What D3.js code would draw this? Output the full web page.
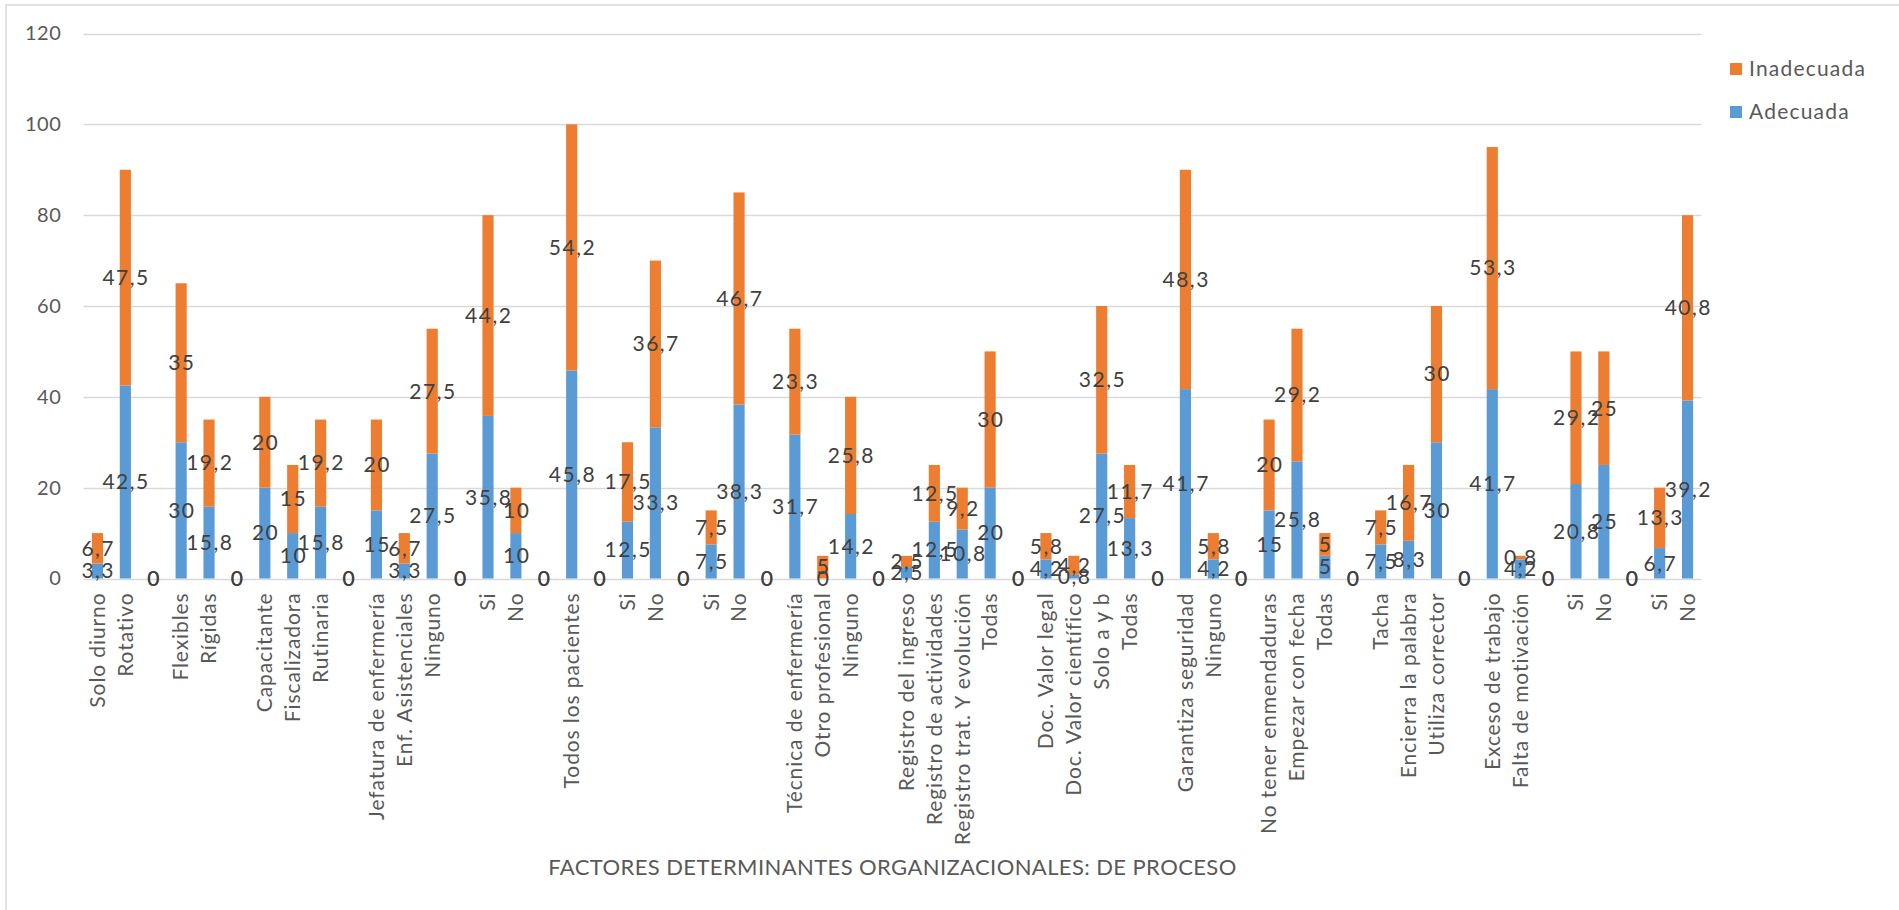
<!DOCTYPE html>
<html>
<head>
<meta charset="utf-8">
<script src="https://cdn.jsdelivr.net/npm/d3@7/dist/d3.min.js"></script>
<style>
  html, body { margin: 0; padding: 0; background: #ffffff; }
  svg { display: block; }
  text { font-family: Lato, "Noto Sans", "Liberation Sans", sans-serif; }
</style>
</head>
<body>
<svg id="chart" width="1899" height="910"></svg>
<script>
// Categories of the organizational process factors (empty strings separate the groups)
const categories = [
  "Solo diurno", "Rotativo", "",
  "Flexibles", "Rígidas", "",
  "Capacitante", "Fiscalizadora", "Rutinaria", "",
  "Jefatura de enfermería", "Enf. Asistenciales", "Ninguno", "",
  "Si", "No", "",
  "Todos los pacientes", "",
  "Si", "No", "",
  "Si", "No", "",
  "Técnica de enfermería", "Otro profesional", "Ninguno", "",
  "Registro del ingreso", "Registro de actividades", "Registro trat. Y evolución", "Todas", "",
  "Doc. Valor legal", "Doc. Valor científico", "Solo a y b", "Todas", "",
  "Garantiza seguridad", "Ninguno", "",
  "No tener enmendaduras", "Empezar con fecha", "Todas", "",
  "Tacha", "Encierra la palabra", "Utiliza corrector", "",
  "Exceso de trabajo", "Falta de motivación", "",
  "Si", "No", "",
  "Si", "No"
];

// Percentage of "Adecuada" per category
const adecuada = [
  3.3, 42.5, 0,
  30, 15.8, 0,
  20, 10, 15.8, 0,
  15, 3.3, 27.5, 0,
  35.8, 10, 0,
  45.8, 0,
  12.5, 33.3, 0,
  7.5, 38.3, 0,
  31.7, 0, 14.2, 0,
  2.5, 12.5, 10.8, 20, 0,
  4.2, 0.8, 27.5, 13.3, 0,
  41.7, 4.2, 0,
  15, 25.8, 5, 0,
  7.5, 8.3, 30, 0,
  41.7, 4.2, 0,
  20.8, 25, 0,
  6.7, 39.2
];

// Percentage of "Inadecuada" per category
const inadecuada = [
  6.7, 47.5, 0,
  35, 19.2, 0,
  20, 15, 19.2, 0,
  20, 6.7, 27.5, 0,
  44.2, 10, 0,
  54.2, 0,
  17.5, 36.7, 0,
  7.5, 46.7, 0,
  23.3, 5, 25.8, 0,
  2.5, 12.5, 9.2, 30, 0,
  5.8, 4.2, 32.5, 11.7, 0,
  48.3, 5.8, 0,
  20, 29.2, 5, 0,
  7.5, 16.7, 30, 0,
  53.3, 0.8, 0,
  29.2, 25, 0,
  13.3, 40.8
];

const yTicks = [0, 20, 40, 60, 80, 100, 120];
const seriesNames = ["Adecuada", "Inadecuada"];
const seriesColors = ["#5B9BD5", "#ED7D31"];
const axisTitle = "FACTORES DETERMINANTES ORGANIZACIONALES: DE PROCESO";

const svg = d3.select("#chart");

// Chart frame
svg.append("rect")
  .attr("x", 6).attr("y", 5)
  .attr("width", 2000).attr("height", 1000)
  .attr("fill", "none")
  .attr("stroke", "#d9d9d9")
  .attr("stroke-width", 1.5);

const plot = { left: 83.5, right: 1701.5, top: 33.5, bottom: 578.5 };

const idx = categories.map((_, i) => i);
const x = d3.scaleBand()
  .domain(idx)
  .range([plot.left, plot.right])
  .paddingInner(0.6)
  .paddingOuter(0.3);

const y = d3.scaleLinear()
  .domain([0, 120])
  .range([plot.bottom, plot.top]);

// Gridlines
svg.append("g")
  .selectAll("line")
  .data(yTicks)
  .join("line")
  .attr("x1", plot.left).attr("x2", plot.right)
  .attr("y1", d => Math.round(y(d)) + 0.5)
  .attr("y2", d => Math.round(y(d)) + 0.5)
  .attr("stroke", "#d9d9d9")
  .attr("stroke-width", 1.3);

// Y axis labels
const yAxis = d3.axisLeft(y).tickValues(yTicks).tickSize(0).tickPadding(0);
const yG = svg.append("g")
  .attr("transform", `translate(${plot.left - 22},0)`)
  .call(yAxis);
yG.select(".domain").remove();
yG.selectAll("text")
  .attr("fill", "#595959")
  .style("font-size", "20px")
  .style("letter-spacing", "0.6px")
  .style("font-family", "Lato, 'Noto Sans', sans-serif");

// Stacked data
const rows = idx.map(i => ({ i, Adecuada: adecuada[i], Inadecuada: inadecuada[i] }));
const stack = d3.stack().keys(seriesNames);
const stacked = stack(rows);

const fmt = v => String(v).replace(".", ",");

svg.append("g")
  .selectAll("g")
  .data(stacked)
  .join("g")
  .attr("fill", (d, k) => seriesColors[k])
  .selectAll("rect")
  .data(d => d)
  .join("rect")
  .attr("x", d => x(d.data.i))
  .attr("width", x.bandwidth())
  .attr("y", d => y(d[1]))
  .attr("height", d => y(d[0]) - y(d[1]));

// Value labels in the middle of each segment
const labelSpacing = 1.5;
const labelG = svg.append("g");
stacked.forEach((layer, k) => {
  labelG.append("g")
    .selectAll("text")
    .data(layer)
    .join("text")
    .attr("x", d => x(d.data.i) + x.bandwidth() / 2 + labelSpacing / 2)
    .attr("y", d => y((d[0] + d[1]) / 2))
    .attr("dy", "0.35em")
    .attr("text-anchor", "middle")
    .attr("fill", "#404040")
    .style("font-size", "21px")
    .style("letter-spacing", labelSpacing + "px")
    .text(d => fmt(d.data[seriesNames[k]]));
});

// Category labels, rotated
svg.append("g")
  .selectAll("text")
  .data(idx)
  .join("text")
  .attr("transform", i => `translate(${x(i) + x.bandwidth() / 2},${plot.bottom + 14}) rotate(-90)`)
  .attr("dy", "0.35em")
  .attr("text-anchor", "end")
  .attr("fill", "#595959")
  .style("font-size", "21px")
  .style("letter-spacing", "0.9px")
  .text(i => categories[i]);

// Axis title
svg.append("text")
  .attr("x", (plot.left + plot.right) / 2)
  .attr("y", 867)
  .attr("dy", "0.35em")
  .attr("text-anchor", "middle")
  .attr("fill", "#595959")
  .style("font-size", "22px")
  .style("letter-spacing", "0.4px")
  .text(axisTitle);

// Legend (Inadecuada on top)
const legendItems = [
  { name: "Inadecuada", color: seriesColors[1], cy: 69 },
  { name: "Adecuada", color: seriesColors[0], cy: 112 }
];
const lg = svg.append("g");
lg.selectAll("rect")
  .data(legendItems)
  .join("rect")
  .attr("x", 1730).attr("y", d => d.cy - 6)
  .attr("width", 12).attr("height", 12)
  .attr("fill", d => d.color);
lg.selectAll("text")
  .data(legendItems)
  .join("text")
  .attr("x", 1749).attr("y", d => d.cy)
  .attr("dy", "0.35em")
  .attr("fill", "#595959")
  .style("font-size", "21px")
  .style("letter-spacing", "1.2px")
  .text(d => d.name);
</script>
</body>
</html>
